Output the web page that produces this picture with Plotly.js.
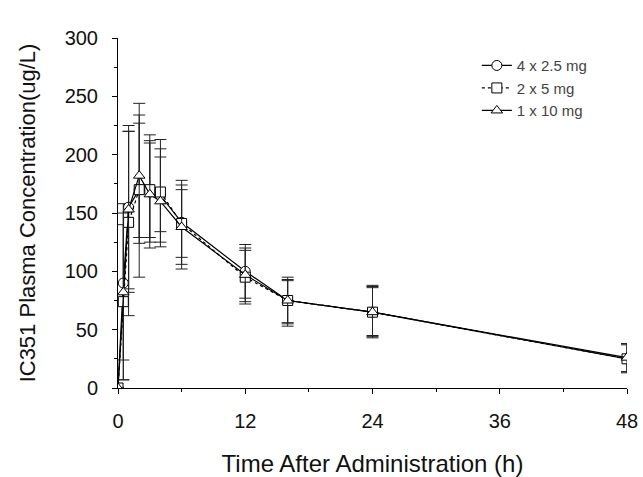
<!DOCTYPE html>
<html>
<head>
<meta charset="utf-8">
<script src="https://cdn.plot.ly/plotly-3.0.1.min.js"></script>
<style>html,body{margin:0;padding:0;background:#fff;}#chart{width:643px;height:477px;}</style>
</head>
<body>
<div id="chart"></div>
<script>
// Time points (h)
const timeH = [0, 0.5, 1, 2, 3, 4, 6, 12, 16, 24, 48];

// 4 x 2.5 mg
const mean4x25 = [0, 90, 155, 170, 168, 165, 142, 100, 75, 65, 25];
const upper4x25 = [0, 158, 225, 234, 212, 205, 178, 123, 95, 88, 38];
const lower4x25 = [0, 24, 82, 95, 125, 134, 102, 77, 55, 43, 13];

// 2 x 5 mg
const mean2x5 = [0, 74, 142, 170, 170, 168, 141, 95, 75, 65, 25];
const upper2x5 = [0, 140, 220, 227, 217, 213, 170, 118, 92, 87, 37];
const lower2x5 = [0, 7, 62, 129, 120, 121, 112, 72, 53, 44, 14];

// 1 x 10 mg
const mean1x10 = [0, 82, 153, 182, 166, 160, 138, 97, 75, 65, 26];
const upper1x10 = [0, 150, 220, 244, 210, 198, 174, 120, 93, 86, 38];
const lower1x10 = [0, 7, 85, 124, 129, 125, 106, 74, 56, 45, 14];

const seriesNames = ['4 x 2.5 mg', '2 x 5 mg', '1 x 10 mg'];
const xTicks = [0, 12, 24, 36, 48];
const yTicks = [0, 50, 100, 150, 200, 250, 300];

function diff(a, b, up) { return a.map((v, i) => up ? v - b[i] : b[i] - v); }

function trace(name, mean, upper, lower, symbol, dash) {
  return {
    x: timeH, y: mean, name: name, type: 'scatter', mode: 'lines+markers',
    line: {color: '#000', width: 1.2, dash: dash},
    marker: {symbol: symbol, size: 10, color: '#fff', line: {color: '#000', width: 1}},
    error_y: {type: 'data', symmetric: false,
      array: diff(upper, mean, true), arrayminus: diff(lower, mean, false),
      color: '#222', thickness: 1, width: 6}
  };
}

const data = [
  trace(seriesNames[0], mean4x25, upper4x25, lower4x25, 'circle', 'solid'),
  trace(seriesNames[1], mean2x5, upper2x5, lower2x5, 'square', 'dot'),
  trace(seriesNames[2], mean1x10, upper1x10, lower1x10, 'triangle-up', 'solid')
];

const layout = {
  width: 643, height: 477,
  margin: {l: 118, r: 16, t: 38, b: 89},
  paper_bgcolor: '#fff', plot_bgcolor: '#fff',
  font: {family: 'Liberation Sans, Arial, sans-serif', color: '#111'},
  showlegend: true,
  legend: {x: 0.705, y: 0.968, xanchor: 'left', yanchor: 'top',
    font: {size: 15, color: '#444'}, bgcolor: 'rgba(0,0,0,0)', itemwidth: 30, tracegroupgap: 0},
  xaxis: {
    range: [0, 48], tickmode: 'array', tickvals: xTicks, ticktext: xTicks.map(String),
    showgrid: false, zeroline: false, showline: true, linecolor: '#000', linewidth: 1,
    ticks: 'outside', ticklen: 5, tickcolor: '#000', ticklabelstandoff: 10,
    minor: {dtick: 6, ticks: 'outside', ticklen: 3, tickcolor: '#000'},
    tickfont: {size: 20, color: '#111'},
    title: {text: 'Time After Administration (h)', font: {size: 24, color: '#111'}, standoff: 31}
  },
  yaxis: {
    range: [0, 300], tickmode: 'array', tickvals: yTicks, ticktext: yTicks.map(String),
    showgrid: false, zeroline: false, showline: true, linecolor: '#000', linewidth: 1,
    ticks: 'outside', ticklen: 5, tickcolor: '#000', ticklabelstandoff: 10,
    minor: {dtick: 25, ticks: 'outside', ticklen: 3, tickcolor: '#000'},
    tickfont: {size: 20, color: '#111'},
    title: {text: 'IC351 Plasma Concentration(ug/L)', font: {size: 22, color: '#111'}, standoff: 22}
  }
};

Plotly.newPlot('chart', data, layout, {displayModeBar: false, staticPlot: true});
</script>
</body>
</html>
